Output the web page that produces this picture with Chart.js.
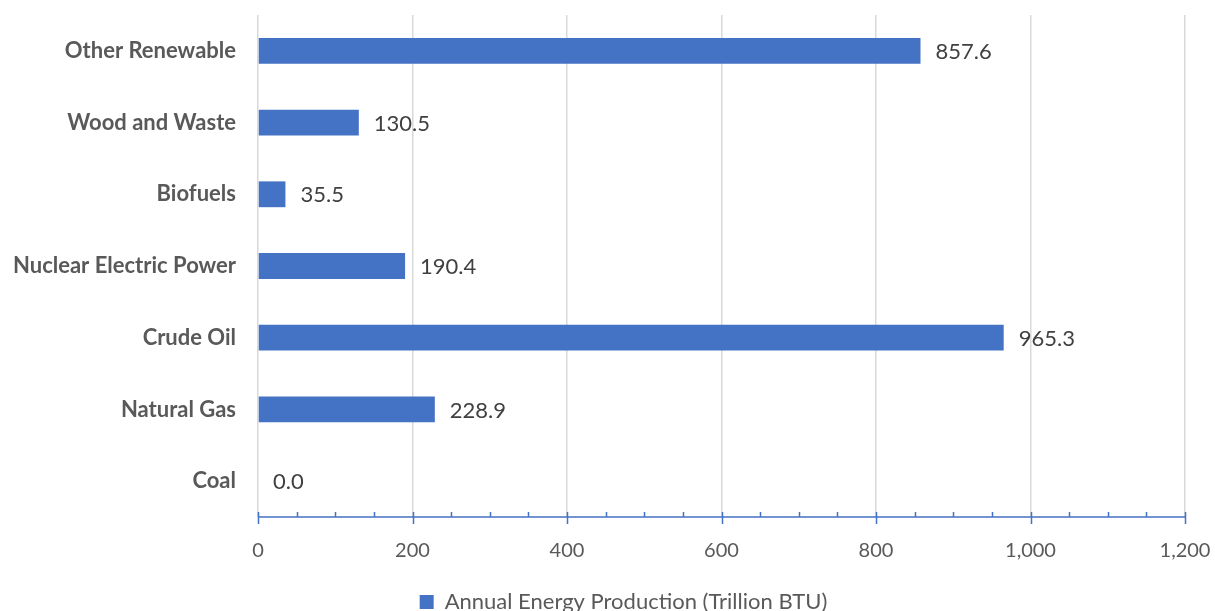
<!DOCTYPE html>
<html>
<head>
<meta charset="utf-8">
<script src="https://cdn.jsdelivr.net/npm/chart.js@4"></script>
<style>
    html, body { margin: 0; padding: 0; background: #fff; overflow: hidden; }
    #wrap { width: 1215px; height: 611px; position: relative; }
</style>
</head>
<body>
<div id="wrap"><canvas id="energy-chart"></canvas></div>
<script>
// Категории и значения
const categories = ['Other Renewable', 'Wood and Waste', 'Biofuels', 'Nuclear Electric Power', 'Crude Oil', 'Natural Gas', 'Coal'];
const production = [857.6, 130.5, 35.5, 190.4, 965.3, 228.9, 0.0];
const seriesLabel = 'Annual Energy Production (Trillion BTU)';
const xTicks = [0, 200, 400, 600, 800, 1000, 1200];
const minorStep = 50;

const BLUE = '#4472C4';
const FONT = 'Lato, "Open Sans", sans-serif';

// Подписи значений справа от полос
const valueLabels = {
    id: 'valueLabels',
    afterDatasetsDraw(chart) {
        const ctx = chart.ctx;
        const meta = chart.getDatasetMeta(0);
        ctx.save();
        ctx.font = '22px ' + FONT;
        ctx.fillStyle = '#404040';
        ctx.textAlign = 'left';
        ctx.textBaseline = 'middle';
        meta.data.forEach((bar, i) => {
            ctx.fillText(production[i].toFixed(1), bar.x + 15, bar.y + 1);
        });
        ctx.restore();
    }
};

// Ось X: синяя линия с основными и промежуточными засечками
const axisLine = {
    id: 'axisLine',
    afterDatasetsDraw(chart) {
        const ctx = chart.ctx;
        const x = chart.scales.x;
        const y0 = chart.chartArea.bottom;
        ctx.save();
        ctx.strokeStyle = BLUE;
        ctx.lineWidth = 1.5;
        ctx.beginPath();
        ctx.moveTo(x.getPixelForValue(0), y0);
        ctx.lineTo(x.getPixelForValue(1200), y0);
        for (let v = 0; v <= 1200; v += minorStep) {
            const px = Math.round(x.getPixelForValue(v)) + 0.5;
            const major = xTicks.includes(v);
            ctx.moveTo(px, y0 - 5);
            ctx.lineTo(px, major ? y0 + 7 : y0);
        }
        ctx.stroke();
        ctx.restore();
    }
};

// Легенда чуть смещена вправо от центра
const legendShift = {
    id: 'legendShift',
    afterLayout(chart) {
        if (chart.legend) {
            chart.legend.left += 31;
            chart.legend.right += 31;
        }
    }
};

const ctx = document.getElementById('energy-chart').getContext('2d');
const chart = new Chart(ctx, {
    type: 'bar',
    data: {
        labels: categories,
        datasets: [{
            label: seriesLabel,
            data: production,
            backgroundColor: BLUE,
            borderWidth: 0,
            categoryPercentage: 0.4,
            barPercentage: 0.9
        }]
    },
    options: {
        indexAxis: 'y',
        responsive: true,
        maintainAspectRatio: false,
        animation: false,
        layout: {
            padding: { top: 15, right: 30, left: 0, bottom: -12 }
        },
        scales: {
            x: {
                min: 0,
                max: 1200,
                afterBuildTicks: (scale) => {
                    scale.ticks = xTicks.map(v => ({ value: v }));
                },
                afterFit: (scale) => { scale.height = 64; },
                grid: {
                    color: '#D9D9D9',
                    lineWidth: 1.5,
                    drawTicks: true,
                    tickLength: 22,
                    tickColor: 'rgba(0,0,0,0)'
                },
                border: { display: false },
                ticks: {
                    padding: 0,
                    color: '#595959',
                    font: { family: FONT, size: 20 },
                    callback: (v) => Number(v).toLocaleString('en-US')
                }
            },
            y: {
                afterFit: (scale) => { scale.width = 258; },
                grid: { display: false, drawTicks: true, tickLength: 22 },
                border: { display: false },
                ticks: {
                    padding: 0,
                    color: '#595959',
                    font: { family: FONT, size: 22, weight: 'bold' }
                }
            }
        },
        plugins: {
            legend: {
                position: 'bottom',
                labels: {
                    boxWidth: 14,
                    boxHeight: 14,
                    padding: 10,
                    color: '#595959',
                    font: { family: FONT, size: 22 }
                }
            },
            tooltip: { enabled: false }
        }
    },
    plugins: [valueLabels, axisLine, legendShift]
});
</script>
</body>
</html>
